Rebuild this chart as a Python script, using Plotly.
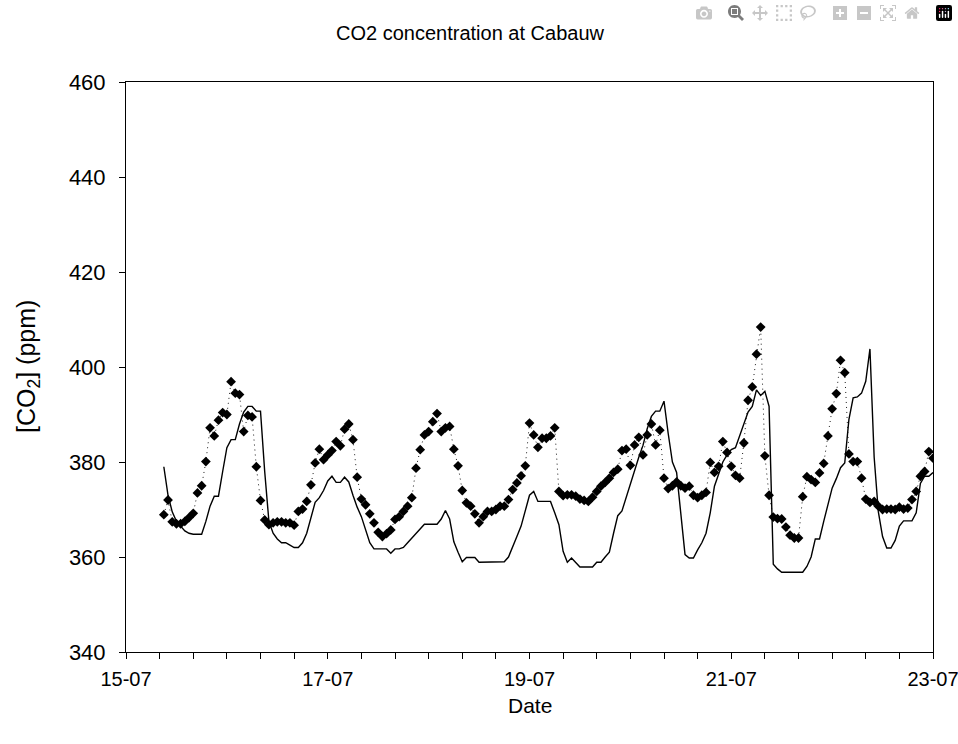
import plotly.graph_objects as go

# hours since 15-07 00:00 (hourly data from 09:00 on 15-07 to 00:00 on 23-07)
start_hour = 9

# measured CO2 (diamonds), hourly
measured_co2 = [
    368.9, 372, 367.4, 367, 367, 367.5, 368.3, 369.2, 373.5, 375, 380.1, 387.2, 385.5, 388.8,
    390.4, 390, 396.9, 394.5, 394.2, 386.4, 389.8, 389.5, 379, 371.9, 367.8, 366.8, 367.2,
    367.4, 367.4, 367.2, 367.2, 366.7, 369.6, 370.1, 371.7, 375.2, 379.8, 382.7, 380.5, 381.5,
    382.4,
    384.3, 383.4, 386.9, 388, 384.7, 376.8, 372.2, 371, 369.1, 367.2, 365.2, 364.3, 364.9,
    365.7, 367.9, 368.5, 369.6, 370.7, 372.5, 378.7, 382.6, 385.7, 386.4, 388.5, 390.2, 386.4,
    387.2, 387.5, 382.7, 379.2, 374, 371.4, 370.7, 369.1, 367.2, 368.5, 369.6, 369.6, 370,
    370.7, 370.7, 372.1, 374.2, 375.6, 377.1, 379.2, 388.2,
    385.7, 383.1, 385, 385, 385.5, 387.2, 373.8, 372.9, 373.1, 373.1, 372.8, 372.2, 371.9,
    371.7, 372.6, 373.8, 374.9, 375.7, 376.6, 377.8, 378.5, 382.4, 382.7, 379.3, 383.6, 385.2,
    381.5, 385.7, 388, 383.6, 386.7, 376.6, 374.4, 375, 375.8, 375, 374.5, 374.9, 373, 372.5,
    373, 373.6, 379.9, 377.8, 379.1,
    384.3, 382, 379.1, 377.2, 376.6, 384, 393, 395.8, 402.7, 408.4, 381.3, 373, 368.4, 368.1,
    368, 366.3, 364.6, 364, 364, 372.7, 376.9, 376.3, 375.7, 377.7, 379.7, 385.5, 391.2,
    394.4, 401.4, 398.8, 381.7, 380.1, 380.1, 376.6, 372.2, 371.5, 371.7, 370.7, 370, 370.1,
    370.1, 370, 370.5, 370.1, 370.3, 372.1, 373.8, 377, 378, 382.2, 380.8,
]

# modelled CO2 (solid line), hourly
model_co2 = [
    379, 373, 369.5, 367.5, 366.5, 365.5, 365, 364.8, 364.8, 364.8, 367.5, 370.7, 372.8, 372.8,
    378, 383, 384.7, 384.7, 388, 390.5, 391.7, 391.7, 390.7, 390.7, 378, 367.5, 365, 363.8,
    363, 363, 362.5, 362, 362, 363, 365, 368.5, 371.5, 372.5, 374, 376,
    377, 375.7, 375.7, 376.8, 375.8, 373, 370.5, 368.5, 365.5, 363, 361.7, 361.7, 361.7, 361.7,
    360.8, 361.7, 361.7, 362, 363, 364, 365, 366, 366.9, 366.9, 366.9, 366.9, 368, 369.8, 368,
    363.2, 361, 359, 359.9, 359.9, 359.9, 358.9, 358.9, 358.9, 358.9, 358.9, 358.9, 359, 360,
    362, 364.3, 366.5, 370, 373,
    373.8, 371.7, 371.7, 371.7, 371.7, 369.3, 366.8, 361.2, 358.9, 359.8, 358.8, 357.9, 357.9,
    357.9, 357.9, 358.9, 358.9, 360, 361, 365, 368.7, 369.7, 372.5, 375.5, 378.5, 381, 383.5,
    387, 389.6, 390.7, 390.7, 392.8, 386, 380, 377.8, 369, 360.5, 359.8, 359.8, 361.5, 363,
    365, 369.3, 374.9, 377.5, 380,
    381.5, 382.6, 383, 385.4, 388, 390.5, 391.7, 395.2, 394, 394.9, 391.7, 358.5, 357.5, 356.8,
    356.8, 356.8, 356.8, 356.8, 356.8, 358, 360, 363.8, 363.8, 367.5, 371, 374.5, 376.5, 378.8,
    379.8, 389, 393.5, 393.7, 394.5, 397, 403.8, 381, 369.5, 364.3, 361.9, 361.9, 363.5, 366.5,
    367.6, 367.6, 367.6, 369.3, 375.5, 377, 377, 377.8,
]

tick_days = [0, 2, 4, 6, 8]
tick_labels = ["15-07", "17-07", "19-07", "21-07", "23-07"]
y_ticks = [340, 360, 380, 400, 420, 440, 460]

x_meas = [(start_hour + i) / 24 for i in range(len(measured_co2))]
x_model = [(start_hour + i) / 24 for i in range(len(model_co2))]

# ticks every 8 hours, labels every 2 days
tv, tt = [], []
for k in range(0, 25):
    v = k / 3
    tv.append(v)
    lab = ""
    for d, l in zip(tick_days, tick_labels):
        if abs(d - v) < 1e-9:
            lab = l
    tt.append(lab)

FONT = "Liberation Sans, Arial, sans-serif"

# full-window figure (body margin removed in post_script)
W, H = 958, 744
L, R, T, B = 126, 25, 82, 92
plot_h = H - T - B
plot_w = W - L - R

fig = go.Figure()
fig.add_trace(go.Scatter(
    x=x_model, y=model_co2, mode="lines",
    line=dict(color="black", width=1.4), showlegend=False,
))
fig.add_trace(go.Scatter(
    x=x_meas, y=measured_co2, mode="lines+markers",
    line=dict(color="black", width=0.9, dash="1px,4px"),
    marker=dict(symbol="diamond", size=7.5, color="black"),
    showlegend=False,
))

fig.update_layout(
    width=W, height=H,
    margin=dict(l=L, r=R, t=T, b=B, autoexpand=False),
    paper_bgcolor="white", plot_bgcolor="white",
    font=dict(family=FONT, color="black", size=20),
    title=dict(text="CO2 concentration at Cabauw", x=470 / W, xref="container",
               y=1 - 33 / H, yref="container", xanchor="center", yanchor="middle",
               font=dict(size=20, family=FONT, color="black")),
    xaxis=dict(range=[0, 8], tickmode="array", tickvals=tv, ticktext=tt,
               ticks="outside", ticklen=6, tickwidth=1, tickcolor="black",
               showline=True, linecolor="black", linewidth=1, mirror=True,
               showgrid=False, zeroline=False, tickfont=dict(size=20),
               ticklabeloverflow="allow", automargin=False, ticklabelstandoff=3),
    yaxis=dict(range=[340, 460], tickmode="array", tickvals=y_ticks,
               ticks="outside", ticklen=6, tickwidth=1, tickcolor="black",
               showline=True, linecolor="black", linewidth=1, mirror=True,
               showgrid=False, zeroline=False, tickfont=dict(size=22),
               automargin=False, ticklabelstandoff=9),
    annotations=[
        dict(text="Date", xref="paper", yref="paper", x=(530 - L) / plot_w,
             y=-(705 - (H - B)) / plot_h,
             showarrow=False, xanchor="center", yanchor="middle",
             font=dict(size=21, family=FONT, color="black")),
        dict(text="[CO<sub>2</sub>] (ppm)", xref="paper", yref="paper",
             x=-(L - 28) / plot_w, y=0.5, textangle=-90, showarrow=False,
             xanchor="center", yanchor="middle",
             font=dict(size=25, family=FONT, color="black")),
    ],
)

fig.write_html(
    "out.html",
    post_script="document.documentElement.style.margin='0';"
                "document.body.style.margin='0';"
                "document.body.style.overflow='hidden';"
                "document.documentElement.style.overflow='hidden';",
)
